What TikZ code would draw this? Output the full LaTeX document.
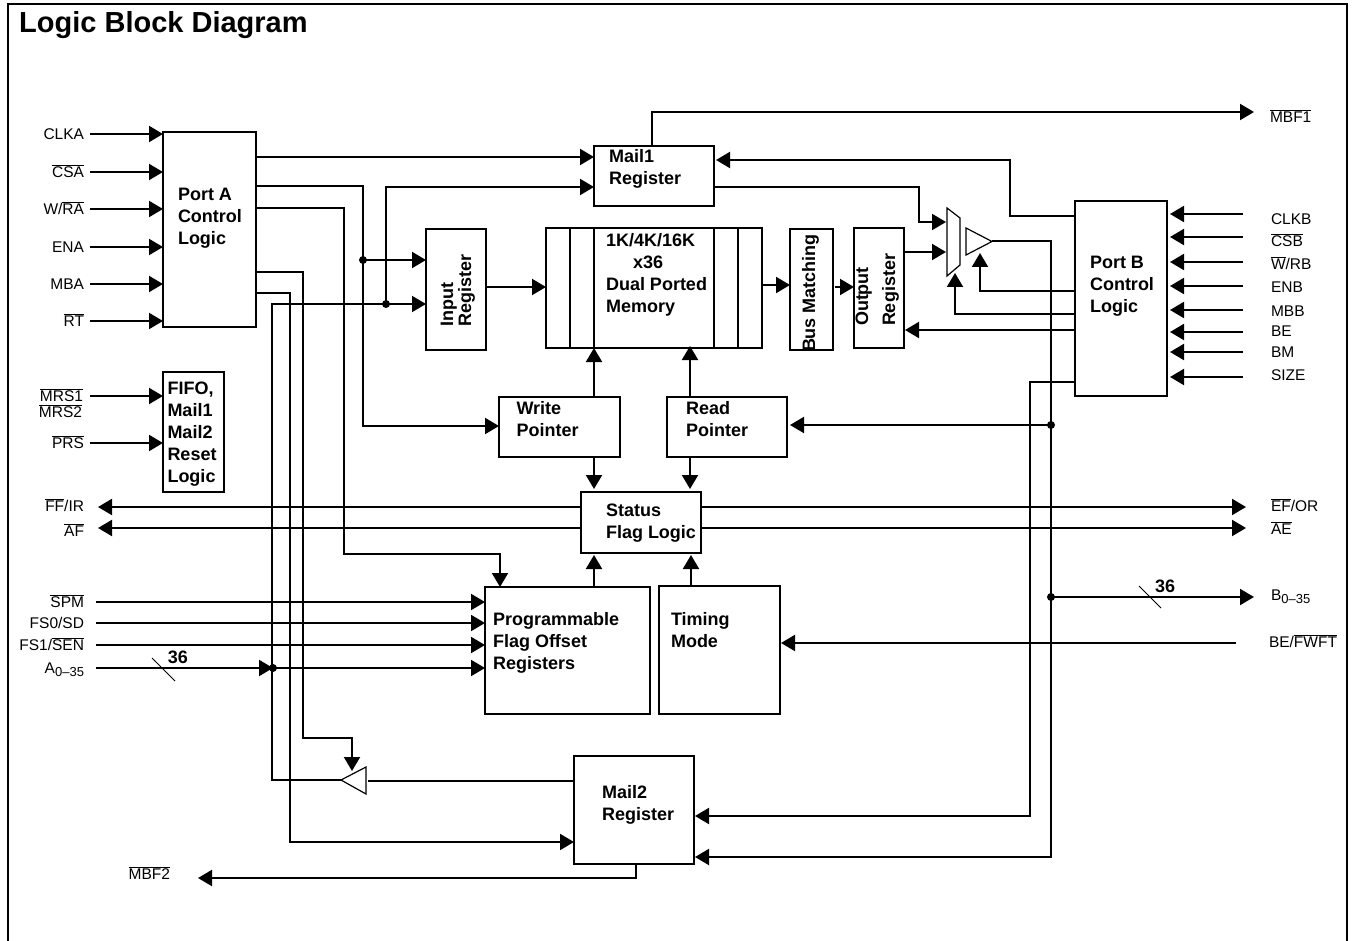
\documentclass[tikz,border=0pt]{standalone}
\usepackage{fontspec}
\setmainfont{Liberation Sans}
\usetikzlibrary{arrows.meta}
\newcommand{\ol}[1]{$\overline{\mbox{#1}}$}
\newcommand{\subsc}[1]{\raisebox{-3pt}{\fontsize{13}{13}\selectfont #1}}
% text inside a box, offset from the centre of the box
\newcommand{\txtat}[3]{\makebox[0pt][l]{\smash{\raisebox{\dimexpr#2pt-6pt\relax}{\hspace*{#1pt}\begin{tabular}[c]{@{}l@{}}#3\end{tabular}}}}}

\begin{document}
\begin{tikzpicture}[
  x=1pt, y=-1pt,
  >={Triangle[length=14pt,width=16pt]},
  wire/.style={line width=2pt},
  thinw/.style={line width=0.8pt},
  gate/.style={draw, line width=1.2pt, fill=white},
  blk/.style={draw, line width=2pt, inner sep=0pt, outer sep=0pt,
              font=\fontsize{18}{22}\selectfont\bfseries},
  lbl/.style={inner ysep=0pt, outer sep=0pt, text height=11pt, text depth=0pt,
              font=\fontsize{15.5}{18}\selectfont},
  lbll/.style={lbl, anchor=east, inner xsep=#1},
  lblr/.style={lbl, anchor=west, inner xsep=#1},
  dot/.style={circle, fill=black, inner sep=0pt, minimum size=8pt},
  buswd/.style={inner sep=0pt, font=\fontsize{18}{22}\selectfont\bfseries},
]
\useasboundingbox (0,0) rectangle (1352,941);

% Frame and title
\draw[wire] (8,941) -- (8,4) -- (1347,4) -- (1347,941);
\node[anchor=west, inner sep=0pt, font=\fontsize{29}{32}\selectfont\bfseries] (title) at (19,25.5) {Logic Block Diagram};

% Boxes
\node[blk, minimum width=93pt, minimum height=195pt] (porta) at (209.5,229.5) {\txtat{-31.5}{13.5}{Port A\\Control\\Logic}};
\node[blk, minimum width=61pt, minimum height=120pt] (rstlog) at (193.5,432) {\txtat{-26}{0}{FIFO,\\Mail1\\Mail2\\Reset\\Logic}};
\node[blk, minimum width=120pt, minimum height=60pt] (mail1) at (654,176) {\txtat{-45}{9}{Mail1\\Register}};
\node[blk, minimum width=216pt, minimum height=120pt] (mem) at (654,288) {\txtat{-48}{14.5}{1K/4K/16K\\\hspace*{27pt}x36\\Dual Ported\\Memory}};
\node[blk, rotate=90, minimum width=121pt, minimum height=60pt] (inreg) at (456,289.5) {\txtat{-37}{0}{Input\\[-4pt]Register}};
\node[blk, rotate=90, minimum width=121pt, minimum height=43pt] (busm) at (811.5,289.5) {\txtat{-62.5}{2.5}{Bus Matching}};
\node[blk, rotate=90, minimum width=120pt, minimum height=50pt] (outreg) at (879,288) {\txtat{-38}{3.5}{Output\\[5pt]Register}};
\node[blk, minimum width=92pt, minimum height=195pt] (portb) at (1121,298.5) {\txtat{-31}{14.5}{Port B\\Control\\Logic}};
\node[blk, minimum width=121pt, minimum height=60pt] (wptr) at (559.5,427) {\txtat{-43}{8}{Write\\Pointer}};
\node[blk, minimum width=120pt, minimum height=60pt] (rptr) at (727,427) {\txtat{-41}{8}{Read\\Pointer}};
\node[blk, minimum width=120pt, minimum height=61pt] (status) at (641,522.5) {\txtat{-35}{1.5}{Status\\Flag Logic}};
\node[blk, minimum width=165pt, minimum height=127pt] (prog) at (567.5,650.5) {\txtat{-74.5}{9.5}{Programmable\\Flag Offset\\Registers}};
\node[blk, minimum width=121pt, minimum height=128pt] (timing) at (719.5,650) {\txtat{-48.5}{20}{Timing\\Mode}};
\node[blk, minimum width=120pt, minimum height=108pt] (mail2) at (634,810) {\txtat{-32}{7}{Mail2\\Register}};

% Memory columns
\foreach \x in {570,594,714,738}
  \draw[wire] (mem.north -| \x,0) -- (mem.south -| \x,0);

% Port A inputs
\foreach \n/\t/\y in {clka/CLKA/134, csa/\ol{CSA}/172, wra/{W/\ol{RA}}/209, ena/ENA/247, mba/MBA/284, rt/\ol{RT}/321} {
  \node[lbll=6pt] (\n) at (90,\y) {\t};
  \draw[wire,->] (\n.east) -- (porta.west |- \n.east);
}
% Reset inputs
\node[lbll=7pt] (mrs1) at (90,396) {\ol{MRS1}};
\node[lbll=8pt] (mrs2) at (90,412) {\ol{MRS2}};
\node[lbll=6pt] (prs) at (90,443) {\ol{PRS}};
\draw[wire,->] (mrs1.east) -- (rstlog.west |- mrs1.east);
\draw[wire,->] (prs.east) -- (rstlog.west |- prs.east);

% Port B inputs
\foreach \n/\t/\ly/\y in {clkb/CLKB/219/214, csb/\ol{CSB}/241/237, wrb/{\ol{W}/RB}/264/262, enb/ENB/287/286,
                          mbb/MBB/311/310, be/BE/331/332, bm/BM/352/352, size/SIZE/375/377} {
  \node[lblr=28pt] (\n) at (1243,\ly) {\t};
  \draw[wire,->,shorten >=3pt] (\n.west |- 0,\y) -- (portb.east |- 0,\y);
}

% Flags
\node[lbll=14pt] (ffir) at (98,506) {\ol{FF}/IR};
\node[lbll=14pt] (af) at (98,531) {\ol{AF}};
\node[lblr=25pt] (efor) at (1246,506) {\ol{EF}/OR};
\node[lblr=25pt] (ae) at (1246,529) {\ol{AE}};
\draw[wire,->] (status.west |- 0,507) -- (ffir.east |- 0,507);
\draw[wire,->] (status.west |- 0,528) -- (af.east |- 0,528);
\draw[wire,->] (status.east |- 0,507) -- (efor.west |- 0,507);
\draw[wire,->] (status.east |- 0,528) -- (ae.west |- 0,528);

% Offset register inputs
\foreach \n/\t/\y in {spm/\ol{SPM}/602, fssd/{FS0/SD}/623, fssen/{FS1/\ol{SEN}}/645} {
  \node[lbll=12pt] (\n) at (96,\y) {\t};
  \draw[wire,->] (\n.east) -- (prog.west |- \n.east);
}
\node[lbll=12pt] (a035) at (96,668) {A\subsc{0–35}};
\node[dot] (aj) at (273,668) {};
\draw[wire,->] (a035.east) -- (aj.center);
\draw[wire,->] (aj.center) -- (prog.west |- aj.center);
\draw[thinw] (152,658) -- (175,681);
\node[buswd] (wa) at (178,657) {36};

% Timing
\node[lblr=33pt] (bef) at (1236,642) {BE/\ol{FWFT}};
\draw[wire,->,shorten >=1pt] (bef.west |- 0,643) -- (timing.east |- 0,643);

% Mail1 output flag
\node[lblr=16pt] (mbf1) at (1254,117) {\ol{MBF1}};
\draw[wire,->] (mail1.north -| 652,0) |- (mbf1.west |- 0,112);

% Mail2 output flag
\node[lbll=28pt] (mbf2) at (198,874) {\ol{MBF2}};
\draw[wire,->] (mail2.south -| 636,0) |- (mbf2.east |- 0,878);

% Port A to the registers
\node[dot] (wrj) at (363,260) {};
\node[dot] (mbj) at (386,304) {};
\coordinate (m2top) at (303,738);
\coordinate (trien) at (352,771);
\coordinate (flagbus) at (344,554);
\coordinate (m2in) at (290,842);
\draw[wire,->] (porta.east |- 0,157) -- (mail1.west |- 0,157);
\draw[wire,->] (porta.east |- 0,186) -| (wrj.center) |- (wptr.west |- 0,426);
\draw[wire,->] (wrj.center) -- (inreg.north |- wrj.center);
\draw[wire,->] (porta.east |- 0,208) -| (flagbus) -| (prog.north -| 500,0);
\draw[wire,->] (porta.east |- 0,272) -| (m2top) -| (trien);
\draw[wire,->] (porta.east |- 0,293) -| (m2in) -- (mail2.west |- m2in);
\draw[wire,->] (mbj.center) |- (mail1.west |- 0,187);

% Mail2 buffer back to the input register
\draw[gate] (341,780) -- (366,767) -- (366,794) -- cycle;
\coordinate (tritip) at (341,780);
\coordinate (tribase) at (368,781);
\coordinate (retb) at (272,780);
\draw[wire] (mail2.west |- tribase) -- (tribase);
\draw[wire,->] (tritip) -- (retb) |- (inreg.north |- mbj.center);

% Middle of the data path
\draw[wire,->] (inreg.south |- 0,287) -- (mem.west |- 0,287);
\draw[wire,->] (mem.east |- 0,285) -- (busm.north |- 0,285);
\draw[wire,->] ([xshift=2pt]busm.south |- 0,287) -- (outreg.north |- 0,287);
\draw[wire,->] (wptr.north -| 594,0) -- (mem.south -| 594,0);
\draw[wire,->,shorten >=-2pt] (rptr.north -| 690,0) -- (mem.south -| 690,0);
\draw[wire,->,shorten >=3pt] (wptr.south -| 594,0) -- (status.north -| 594,0);
\draw[wire,->,shorten >=3pt] (rptr.south -| 690,0) -- (status.north -| 690,0);
\draw[wire,->,shorten >=2pt] (prog.north -| 594,0) -- (status.south -| 594,0);
\draw[wire,->,shorten >=2pt] (timing.north -| 691,0) -- (status.south -| 691,0);

% Mux and output buffer
\draw[gate] (947,208) -- (960,218) -- (960,265) -- (947,276) -- cycle;
\draw[gate] (966,228) -- (992,241.5) -- (966,255) -- cycle;
\coordinate (muxa) at (946,222);
\coordinate (mj) at (919,222);
\coordinate (muxc) at (955,273);
\coordinate (bufc) at (980,253);
\coordinate (buft) at (992,241.5);
\draw[wire,->] (mail1.east |- 0,187) -| (mj) -- (muxa);
\draw[wire,->] (outreg.south |- 0,252) -- (946,252);
\draw[wire,->] (portb.west |- 0,291) -| (bufc);
\draw[wire,->] (portb.west |- 0,314) -| (muxc);
\draw[wire,->,shorten >=1pt] (portb.west |- 0,330) -- (outreg.south |- 0,330);

% Port B to the mail registers
\coordinate (pbm) at (1010,160);
\coordinate (m2a) at (1030,816);
\coordinate (m2b) at (1051,857);
\draw[wire,->,shorten >=2pt] (portb.west |- 0,216) -| (pbm) -- (mail1.east |- pbm);
\draw[wire,->,shorten >=1pt] (portb.west |- 0,382) -| (m2a) -- (mail2.east |- m2a);
\draw[wire,->,shorten >=1pt] (buft) -| (m2b) -- (mail2.east |- m2b);

% Output bus
\node[dot] (rdj) at (1051,425) {};
\node[dot] (bj) at (1051,597) {};
\node[lblr=17pt] (b035) at (1254,595) {B\subsc{0–35}};
\draw[wire,->,shorten >=3pt] (rdj.center) -- (rptr.east |- rdj.center);
\draw[wire,->] (bj.center) -- (b035.west |- bj.center);
\draw[thinw] (1139,586) -- (1161,608);
\node[buswd] (wb) at (1165,586) {36};
\end{tikzpicture}
\end{document}
